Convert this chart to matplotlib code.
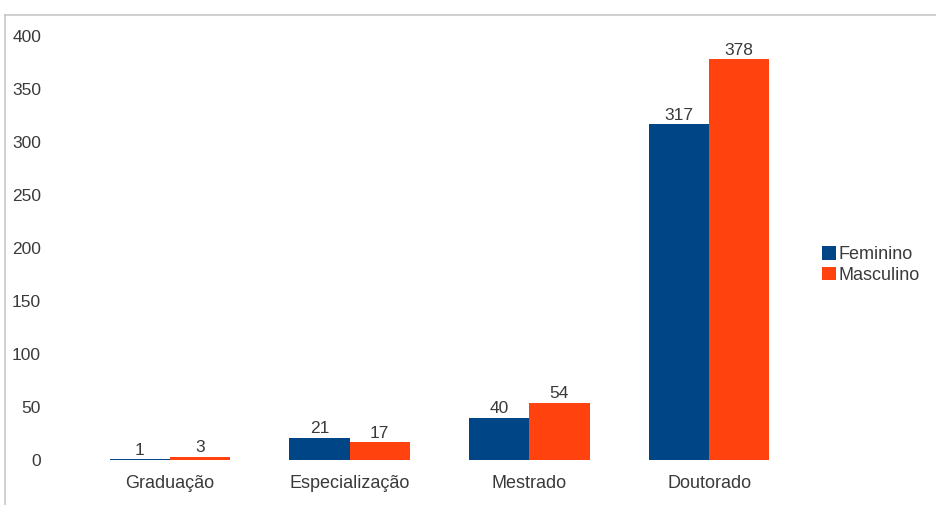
import numpy as np
import matplotlib.pyplot as plt
from matplotlib.lines import Line2D

plt.rcParams['font.family'] = ['Liberation Sans', 'DejaVu Sans']

# data
categorias = ["Graduação", "Especialização", "Mestrado", "Doutorado"]
feminino = [1, 21, 40, 317]
masculino = [3, 17, 54, 378]
series = ["Feminino", "Masculino"]
cores = ["#004586", "#ff420e"]

fig = plt.figure(figsize=(9.36, 5.05), dpi=100)
ax = fig.add_axes([80 / 936, 45 / 505, 719 / 936, 424 / 505])

x = np.arange(len(categorias))
w = 0.335
b1 = ax.bar(x - w / 2, feminino, w, color=cores[0], label=series[0])
b2 = ax.bar(x + w / 2, masculino, w, color=cores[1], label=series[1])

txt = "#3a3a3a"
for bars in (b1, b2):
    for r in bars:
        ax.annotate(str(int(r.get_height())), (r.get_x() + r.get_width() / 2, r.get_height()),
                    xytext=(0, 1), textcoords="offset points",
                    ha="center", va="bottom", fontsize=12.5, color=txt)

ax.set_xlim(-0.5, 3.5)
ax.set_ylim(0, 400)
ax.set_yticks(np.arange(0, 401, 50))
ax.set_xticks(x)
ax.set_xticklabels(categorias)
ax.tick_params(axis="y", length=0, pad=28, labelsize=12.5, labelcolor=txt)
ax.tick_params(axis="x", length=0, pad=11, labelsize=13, labelcolor=txt)
for s in ax.spines.values():
    s.set_visible(False)

ax.legend(loc="center left", bbox_to_anchor=(806 / 936, 240 / 505),
          bbox_transform=fig.transFigure, frameon=False, fontsize=13,
          handlelength=0.75, handleheight=0.75, handletextpad=0.15,
          labelspacing=0.2, labelcolor=txt)

# outer chart border (top and left only visible)
fig.add_artist(Line2D([5 / 936, 5 / 936], [0, 1 - 15 / 505], transform=fig.transFigure,
                      color="#c8c8c8", lw=1.2))
fig.add_artist(Line2D([5 / 936, 1], [1 - 15 / 505, 1 - 15 / 505], transform=fig.transFigure,
                      color="#c8c8c8", lw=1.2))

fig.savefig("out.png", dpi=100)
